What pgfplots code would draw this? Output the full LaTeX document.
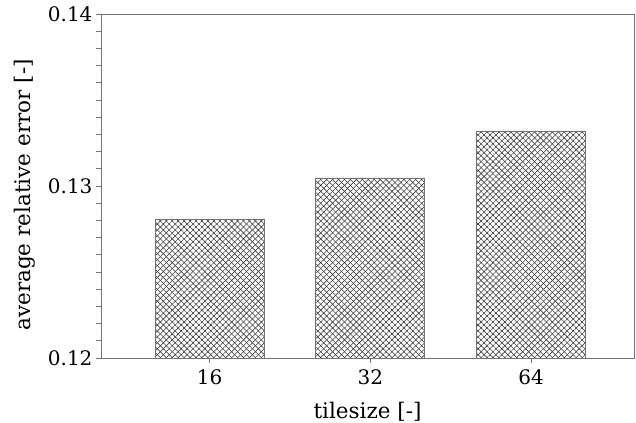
\documentclass[border=0pt]{standalone}
\usepackage{fontspec}
\setmainfont{DejaVu Serif}
\usepackage{pgfplots}
\pgfplotsset{compat=1.18}
\usetikzlibrary{patterns.meta}

\begin{document}
\begin{tikzpicture}
\begin{axis}[
  name=ax,
  scale only axis,
  width=533pt, height=344pt,
  xmin=-0.675, xmax=2.64,
  ymin=0.12, ymax=0.14,
  xtick={0,1,2}, xticklabels={16,32,64},
  ytick={0.12,0.13,0.14},
  minor y tick num=9,
  xtick pos=bottom, ytick pos=left,
  tick align=outside,
  major tick length=5pt, minor tick length=5pt,
  axis line style={black!55, line width=0.8pt},
  every tick/.style={black!55, line width=0.8pt},
  tick label style={font=\fontsize{20}{24}\selectfont},
  xticklabel style={yshift=-3pt},
  label style={font=\fontsize{21.5}{26}\selectfont},
  /pgf/number format/assume math mode=true,
  yticklabel style={/pgf/number format/.cd, fixed, precision=2, fixed zerofill},
  xlabel={tilesize [-]},
  ylabel={average relative error [-]},
  xlabel style={at={(axis description cs:0.5,-0.157)}, anchor=center},
  ylabel style={at={(axis description cs:-0.1426,0.474)}, anchor=center},
  ybar, bar width=0.678,
]
\addplot[
  draw=black!55, line width=0.8pt,
  pattern={Lines[angle=45, distance=4.2pt, line width=0.6pt]},
  pattern color=black!75,
  postaction={pattern={Lines[angle=-45, distance=4.2pt, line width=0.6pt]}, pattern color=black!75},
] coordinates {(0,0.12808) (1,0.13047) (2,0.1332)};
\end{axis}
\pgfresetboundingbox
\path ([shift={(-101pt,-65pt)}]ax.south west) rectangle ([shift={(2pt,14pt)}]ax.north east);
\end{tikzpicture}
\end{document}
